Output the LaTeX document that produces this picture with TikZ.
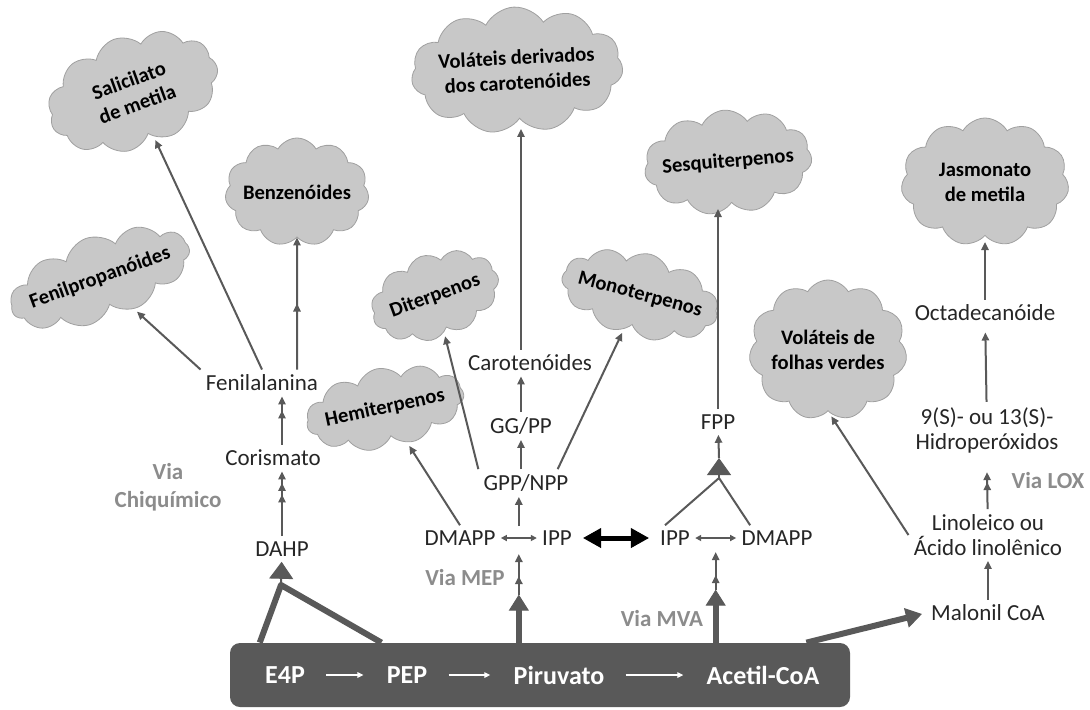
\documentclass[tikz,border=0pt]{standalone}
\usepackage{fontspec}
\setmainfont{Carlito}
\usepackage{tikz}
\usetikzlibrary{arrows.meta}
\usetikzlibrary{shapes.symbols}
\usetikzlibrary{decorations.markings}
\definecolor{pathgray}{HTML}{595959}
\definecolor{puffgray}{HTML}{C8C8C8}
\definecolor{puffline}{HTML}{A0A0A0}
\definecolor{viagray}{HTML}{8C8C8C}
\definecolor{ink}{HTML}{262626}
\tikzstyle{metab}=[inner sep=2.5pt, text=ink, align=center, font=\fontsize{11.5}{12.5}\selectfont]
\tikzstyle{barmetab}=[inner sep=2.5pt, text=white, font=\bfseries\fontsize{13}{15}\selectfont]
\tikzstyle{viatext}=[inner sep=0pt, text=viagray, align=center, font=\bfseries\fontsize{11.5}{14}\selectfont]
\tikzstyle{puff}=[cloud, cloud puffs=11, cloud puff arc=120, cloud ignores aspect, draw=puffline, fill=puffgray, inner sep=0pt]
\tikzstyle{pufftext}=[inner sep=0pt, text=black, align=center, font=\bfseries\fontsize{10.3}{12.5}\selectfont]
\tikzstyle{flow}=[draw=pathgray, line width=1pt, -{Triangle[length=4pt, width=3.6pt]}]
\tikzstyle{stem}=[draw=pathgray, line width=1pt]
\tikzstyle{trunk}=[draw=pathgray, line width=3pt, line join=round]
\tikzstyle{heavy}=[trunk, -{Triangle[length=8pt, width=10pt, line width=0.5pt]}]
\tikzstyle{bigtip}=[stem, -{Triangle[length=8.5pt, width=12pt, line width=0.5pt]}]
\tikzstyle{swap}=[draw=pathgray, line width=0.8pt, {Triangle[length=3pt, width=3pt]}-{Triangle[length=3pt, width=3pt]}]
\tikzstyle{exchange}=[draw=black, line width=2.5pt, {Triangle[length=9pt, width=10pt, line width=0.5pt]}-{Triangle[length=9pt, width=10pt, line width=0.5pt]}]
\tikzstyle{inbar}=[draw=white, line width=0.6pt, -{Triangle[length=3pt, width=2.8pt]}, shorten <=8pt, shorten >=9pt]
\tikzset{extrahead/.style={postaction={decorate, decoration={markings, mark=at position #1 with {\arrow{Triangle[length=4pt, width=3.6pt]}}}}}}

\begin{document}
\begin{tikzpicture}[x=0.5pt, y=-0.5pt]
        \useasboundingbox (0,0) rectangle (1090,709);
        \node[puff, rotate=20, minimum width=88pt, minimum height=56pt, label={[pufftext, rotate=20]center:{Salicilato\\de metila}}] (salic) at (133,92) {};
        \node[puff, minimum width=72pt, minimum height=54pt, label={[pufftext]center:Benzenóides}] (benz) at (297,192) {};
        \node[puff, rotate=20, minimum width=94pt, minimum height=42pt, label={[pufftext, rotate=20]center:Fenilpropanóides}] (fenilp) at (100,278) {};
        \node[puff, rotate=3, minimum width=106pt, minimum height=63pt, label={[pufftext, rotate=3]center:{Voláteis derivados\\dos carotenóides}}] (vcar) at (517,70) {};
        \node[puff, rotate=20, minimum width=66pt, minimum height=42pt, label={[pufftext, rotate=20]center:Diterpenos}] (diter) at (435,296) {};
        \node[puff, rotate=12, minimum width=80pt, minimum height=40pt, label={[pufftext, rotate=12]center:Hemiterpenos}] (hemi) at (385,408) {};
        \node[puff, rotate=-15, minimum width=80pt, minimum height=42pt, label={[pufftext, rotate=-15]center:Monoterpenos}] (mono) at (640,295) {};
        \node[puff, rotate=5, minimum width=84pt, minimum height=52pt, label={[pufftext, rotate=5]center:Sesquiterpenos}] (sesq) at (728,162) {};
        \node[puff, minimum width=84pt, minimum height=64pt, label={[pufftext]center:{Jasmonato\\de metila}}] (jasm) at (985,182) {};
        \node[puff, minimum width=79pt, minimum height=70pt, label={[pufftext]center:{Voláteis de\\folhas verdes}}] (vfol) at (828,350) {};

        \node[metab] (fenil) at (262,383) {Fenilalanina};
        \node[metab] (coris) at (273,458) {Corismato};
        \node[metab] (dahp) at (282,549) {DAHP};
        \node[metab] (carot) at (530,363) {Carotenóides};
        \node[metab] (ggpp) at (521,426) {GG/PP};
        \node[metab] (gpp) at (526,483) {GPP/NPP};
        \node[metab] (dmappL) at (460,538) {DMAPP};
        \node[metab] (ippL) at (557,538) {IPP};
        \node[metab] (ippR) at (675,538) {IPP};
        \node[metab] (dmappR) at (777,538) {DMAPP};
        \node[metab] (fpp) at (718,422) {FPP};
        \node[metab] (octa) at (985,313) {Octadecanóide};
        \node[metab] (hidro) at (987,430) {9(S)- ou 13(S)-\\Hidroperóxidos};
        \node[metab] (lino) at (988,535) {Linoleico ou\\Ácido linolênico};
        \node[metab] (malon) at (988,613) {Malonil CoA};

        \node[viatext] (viaShik) at (168,487) {Via\\Chiquímico};
        \node[viatext] (viaMEP) at (465,577) {Via MEP};
        \node[viatext] (viaMVA) at (662,618) {Via MVA};
        \node[viatext] (viaLOX) at (1048,480) {Via LOX};

        \node[fill=pathgray, rounded corners=5pt, minimum width=310pt, minimum height=32pt, inner sep=0pt] (bar) at (540,675) {};
        \node[barmetab] (e4p) at (285,675) {E4P};
        \node[barmetab] (pep) at (407,675) {PEP};
        \node[barmetab] (piru) at (559,675) {Piruvato};
        \node[barmetab] (acet) at (763,675) {Acetil-CoA};
        \draw[inbar] (e4p) -- (pep);
        \draw[inbar] (pep) -- (piru);
        \draw[inbar] (piru) -- (acet);

        \coordinate (dahpfork) at (281,585);
        \draw[trunk] (e4p.west |- bar.north) -- (dahpfork) -- (pep.west |- bar.north);
        \draw[bigtip] (dahpfork) -- (dahp);
        \draw[flow, extrahead=-5.75pt, extrahead=-11.5pt] (dahp) -- (dahp |- coris.south);
        \draw[flow, extrahead=-7pt] (coris.north -| dahp) -- (fenil.south -| dahp);
        \draw[flow, shorten >=2pt] (fenil.north) -- (salic);
        \draw[flow, shorten >=2pt] (fenil.north west) -- (fenilp);
        \draw[flow, extrahead=0.5] (fenil.north -| benz) -- (benz);

        \draw[swap] (dmappL) -- coordinate (mepmid) (ippL);
        \draw[exchange, shorten <=3pt, shorten >=3pt] (ippL) -- (ippR);
        \draw[swap] (ippR) -- coordinate (mvamid) (dmappR);
        \draw[heavy] (mepmid |- bar.north) -- ++(0,-48) coordinate (mepfork);
        \draw[flow, extrahead=-11pt] (mepfork) -- ([yshift=-8pt]mepmid);
        \draw[heavy] (mvamid |- bar.north) -- ++(0,-53) coordinate (mvafork);
        \draw[flow, extrahead=-11.5pt] (mvafork) -- ([yshift=-7pt]mvamid);

        \draw[flow] ([yshift=6pt]mepmid) -- (gpp.south -| mepmid);
        \draw[flow] (gpp.north -| ggpp) -- (ggpp);
        \draw[flow] (ggpp) -- (carot.south -| ggpp);
        \draw[flow, shorten >=5pt] (carot.north -| ggpp) -- (ggpp |- vcar.south);
        \draw[flow, shorten >=2pt] (gpp.north west) -- (diter);
        \draw[flow, shorten >=2pt] ([xshift=-8pt]gpp.north east) -- (mono);
        \draw[flow, shorten >=2pt] (dmappL.north) -- (hemi);

        \coordinate (fppfork) at (719,478);
        \draw[stem] ([xshift=-5pt]ippR.north) -- (fppfork) -- ([xshift=7pt]dmappR.north west);
        \draw[bigtip] (fppfork) -- ++(0,-20) coordinate (fppapex);
        \draw[flow] (fppapex) -- (fpp);
        \draw[flow, shorten >=3pt] (fpp) -- (fpp |- sesq.south);

        \draw[heavy, shorten >=2pt] ([xshift=-22pt]bar.north east) -- (malon.west);
        \draw[flow] (malon) -- (lino);
        \draw[flow, extrahead=-5pt] (lino) -- ([yshift=-7pt]hidro.south);
        \draw[flow, shorten >=3pt] (hidro) -- (octa);
        \draw[flow, shorten >=3pt] (octa) -- (jasm);
        \draw[flow, shorten >=3pt] (lino.west) -- (vfol.south);
    \end{tikzpicture}
\end{document}
